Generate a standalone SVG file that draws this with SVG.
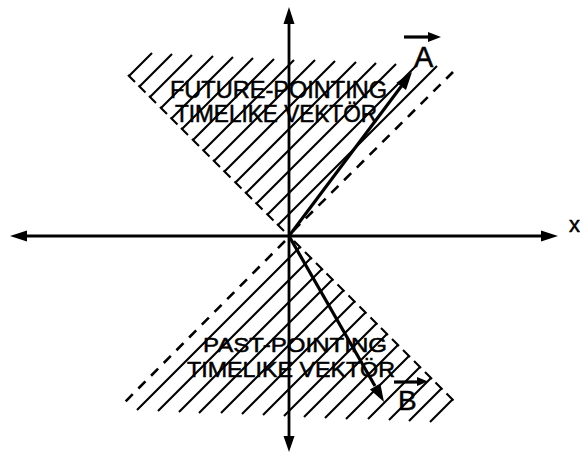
<svg xmlns="http://www.w3.org/2000/svg" width="580" height="454" viewBox="0 0 580 454">
<style>
.h{stroke:#000;stroke-width:2.1;fill:none;stroke-linecap:butt}
.ax{stroke:#000;stroke-width:2.8;fill:none}
.vec{stroke:#000;stroke-width:3.2;fill:none}
.dash{stroke:#000;stroke-width:2.6;fill:none;stroke-dasharray:10 8}
.t{font-family:"Liberation Sans",Arial,sans-serif;fill:#000;stroke:#000;stroke-width:0.5}
.hd{fill:#000;stroke:none}
</style>
<rect width="580" height="454" fill="#fff"/>
<g id="future-cone">
<path class="h" d="M278,225L437,66 M267.5,214.5L417,65 M256.5,203.5L396,64 M246,193L376,63 M235.5,182.5L356,62 M224.5,171.5L335,61 M214,161L315,60 M203.5,150.5L294,60 M193,140L274,59 M182,129L253,58 M171.5,118.5L233,57 M161,108L213,56 M150,97L192,55 M139.5,86.5L172,54 M129,76L152,53"/>
<path class="h" d="M277,224l7,7 M266.5,213.5l7,7 M255.5,202.5l7,7 M245,192l7,7 M234.5,181.5l7,7 M223.5,170.5l7,7 M213,160l7,7 M202.5,149.5l7,7 M192,139l7,7 M181,128l7,7 M170.5,117.5l7,7 M160,107l7,7 M149,96l7,7 M138.5,85.5l7,7 M128,75l7,7"/>
<path class="dash" d="M293,231L453,72"/>
</g>
<g id="past-cone">
<path class="h" d="M300,247L137,410 M311,258L158,411 M322,269L179,412 M332.5,279.5L199,413 M343.5,290.5L221,413 M354.5,301.5L242,414 M365.5,312.5L263,415 M376.5,323.5L284,416 M387,334L304,417 M398,345L325,418 M409,356L346,419 M420,367L368,419 M431,378L389,420 M441.5,388.5L409,421 M452.5,399.5L430,422"/>
<path class="h" d="M301,248l-7,-7 M312,259l-7,-7 M323,270l-7,-7 M333.5,280.5l-7,-7 M344.5,291.5l-7,-7 M355.5,302.5l-7,-7 M366.5,313.5l-7,-7 M377.5,324.5l-7,-7 M388,335l-7,-7 M399,346l-7,-7 M410,357l-7,-7 M421,368l-7,-7 M432,379l-7,-7 M442.5,389.5l-7,-7 M453.5,400.5l-7,-7"/>
<path class="dash" d="M285,241L124,403"/>
</g>
<g id="axes">
<path class="ax" d="M25,236H543"/>
<polygon class="hd" points="10,236 27,230.5 27,241.5"/>
<polygon class="hd" points="558,236 541,230.5 541,241.5"/>
<path class="ax" d="M289,22V438"/>
<polygon class="hd" points="289,7 283.5,24 294.5,24"/>
<polygon class="hd" points="289,452 283.5,436 294.5,436"/>
<text class="t" x="569" y="232" font-size="22">x</text>
</g>
<g id="connectors">
<g id="vector-A">
<path class="vec" d="M289,236L401.5,86"/>
<polygon class="hd" points="412,72 406,90 396.4,82.8"/>
</g>
<g id="vector-B">
<path class="vec" d="M289,236L375,386"/>
<polygon class="hd" points="384,402 380.3,383.4 369.9,389.4"/>
</g>
</g>
<g id="label-A">
<path class="vec" d="M404,37H430" stroke-width="2.5"/>
<polygon class="hd" points="441,37 428,32 428,42"/>
<text class="t" x="414" y="67" font-size="29">A</text>
</g>
<g id="label-B">
<path class="vec" d="M394,382H418" stroke-width="2.5"/>
<polygon class="hd" points="428,381.5 417,377 417,386"/>
<text class="t" x="398" y="410" font-size="28">B</text>
</g>
<g id="future-text">
<text class="t" x="170" y="98" font-size="23" textLength="217" lengthAdjust="spacingAndGlyphs">FUTURE-POINTING</text>
<text class="t" x="175" y="122" font-size="23" textLength="202" lengthAdjust="spacingAndGlyphs">TIMELIKE VEKTÖR</text>
</g>
<g id="past-text">
<text class="t" x="203" y="352" font-size="21" textLength="184" lengthAdjust="spacingAndGlyphs">PAST-POINTING</text>
<text class="t" x="187" y="377" font-size="22" textLength="208" lengthAdjust="spacingAndGlyphs">TIMELIKE VEKTÖR</text>
</g>
</svg>
